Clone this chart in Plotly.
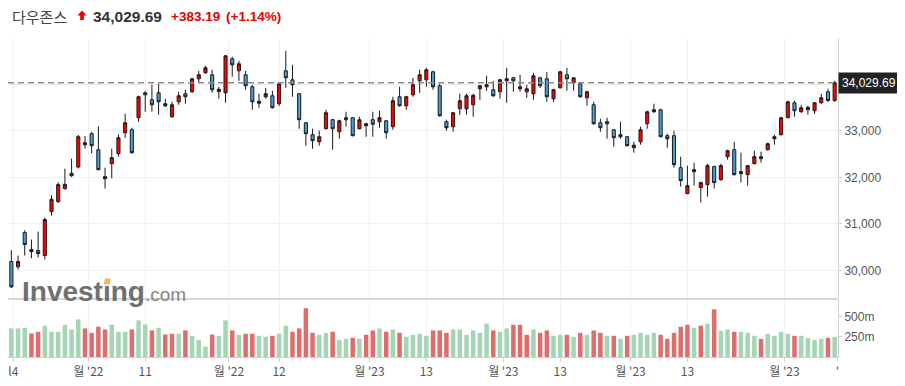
import plotly.graph_objects as go

# ---------------- data ----------------
opens = [30193, 30079, 30814, 30450, 30429, 30321, 31264, 31479, 31757, 32086,
         32221, 32700, 32936, 32593, 31971, 32293, 32507, 32957, 33021, 33279,
         33814, 33664, 33814, 33536, 33300, 33621, 33793, 33836, 34114, 34243,
         34200, 33840, 33814, 34543, 34286, 34200, 33943, 33590, 33729, 33750,
         33579, 34286, 34093, 33793, 33171, 32914, 32764, 33043, 33236, 32979,
         33279, 33279, 33043, 33107, 33236, 33193, 33214, 33086, 33729, 33536,
         33771, 34071, 34093, 34264, 33964, 33193, 33086, 33471, 33471, 33557,
         33900, 33943, 33879, 33836, 34071, 34136, 33900, 33836, 33793, 34136,
         34114, 33686, 33921, 34200, 34029, 34007, 33707, 33557, 33171, 33193,
         33021, 32914, 32871, 32636, 32764, 33150, 33407, 33450, 32893, 32893,
         32207, 31650, 32121, 31779, 31843, 32229, 31950, 32443, 32593, 32079,
         32057, 32293, 32443, 32593, 32829, 32914, 33279, 33600, 33407, 33450,
         33429, 33600, 33836, 33646.50]
highs = [30436, 30321, 30864, 30664, 30836, 31136, 31614, 31893, 32186, 32400,
         32907, 32886, 32979, 33093, 32207, 32614, 32921, 33364, 33064, 33750,
         33850, 33986, 34007, 33686, 33621, 33836, 33879, 34136, 34286, 34393,
         34307, 33943, 34620, 34586, 34500, 34286, 33986, 33793, 33921, 33857,
         34029, 34714, 34414, 33810, 33186, 33043, 33000, 33450, 33250, 33236,
         33407, 33290, 33300, 33171, 33407, 33429, 33225, 33729, 33943, 33750,
         34136, 34307, 34350, 34286, 34007, 33236, 33400, 33793, 33793, 33793,
         33986, 34179, 34071, 34114, 34350, 34157, 34200, 33986, 34243, 34157,
         34264, 33900, 34286, 34350, 34150, 34050, 33857, 33621, 33257, 33279,
         33035, 33193, 32885, 32764, 33086, 33429, 33579, 33471, 32936, 33000,
         32443, 32250, 32314, 31907, 32293, 32250, 32293, 32593, 32764, 32529,
         32265, 32571, 32550, 32743, 32914, 33300, 33643, 33643, 33557, 33536,
         33615, 33793, 33900, 34071]
lows = [29621, 30021, 30321, 30264, 30279, 30236, 31179, 31450, 31736, 32007,
        32193, 32614, 32514, 32150, 31757, 31979, 32443, 32843, 32507, 33193,
        33407, 33407, 33343, 33507, 33279, 33557, 33579, 33814, 34029, 34221,
        33814, 33686, 33600, 34157, 34071, 33879, 33450, 33493, 33686, 33479,
        33529, 33921, 33729, 33043, 32679, 32614, 32679, 33029, 32593, 32829,
        33086, 32880, 33030, 32871, 32871, 33064, 32829, 33021, 33514, 33450,
        33729, 33814, 33943, 33879, 33300, 33000, 32979, 33343, 33343, 33300,
        33664, 33857, 33729, 33686, 33600, 33836, 33836, 33707, 33664, 33921,
        33621, 33621, 33910, 33857, 33857, 33707, 33536, 33129, 32979, 32829,
        32657, 32829, 32657, 32529, 32700, 33043, 33386, 32860, 32636, 32207,
        31800, 31640, 31821, 31457, 31586, 31757, 31929, 32379, 32040, 31886,
        31821, 32280, 32314, 32571, 32700, 32900, 33270, 33300, 33386, 33343,
        33364, 33579, 33621, 33621]
closes = [29650, 30193, 30557, 30407, 30364, 31093, 31529, 31843, 31850, 32036,
          32871, 32743, 32679, 32164, 32014, 32421, 32850, 33171, 32529, 33729,
          33771, 33557, 33621, 33579, 33557, 33750, 33729, 34114, 34200, 34350,
          33879, 33890, 34607, 34414, 34436, 33964, 33621, 33630, 33793, 33493,
          34007, 34136, 33986, 33236, 32936, 32786, 32871, 33386, 33043, 33214,
          33236, 32893, 33236, 33150, 33140, 33279, 32957, 33643, 33536, 33729,
          33986, 34200, 34307, 33943, 33321, 33064, 33386, 33643, 33750, 33760,
          33964, 33986, 33750, 34093, 34114, 34071, 33943, 33900, 34179, 33964,
          33729, 33879, 34264, 34114, 34136, 33729, 33836, 33150, 33064, 33150,
          32850, 32871, 32679, 32690, 33021, 33407, 33450, 32871, 32829, 32271,
          31929, 31821, 32164, 31886, 32250, 31886, 32250, 32571, 32057, 32121,
          32250, 32443, 32400, 32721, 32871, 33279, 33621, 33429, 33493, 33500,
          33600, 33707, 33646.50, 34029.69]
volumes_m = [357, 357, 365, 294, 315, 391, 315, 315, 403, 344,
             470, 357, 302, 378, 344, 403, 315, 315, 344, 458,
             407, 332, 365, 281, 290, 290, 332, 265, 214, 130,
             281, 265, 458, 332, 277, 290, 290, 265, 252, 265,
             290, 391, 315, 357, 609, 302, 277, 302, 315, 214,
             227, 239, 227, 277, 332, 357, 315, 344, 302, 252,
             277, 290, 265, 332, 332, 302, 344, 344, 277, 332,
             302, 416, 332, 315, 357, 403, 403, 277, 344, 302,
             332, 265, 277, 277, 252, 302, 277, 332, 302, 265,
             265, 227, 265, 277, 302, 277, 302, 277, 227, 302,
             378, 403, 365, 391, 416, 596, 328, 344, 315, 315,
             302, 265, 227, 290, 265, 315, 290, 265, 265, 239,
             214, 227, 239, 252]
x_tick_pos = [0.3, 11.5, 20, 32.5, 40, 53.5, 62, 73.5, 82, 92.5, 101, 115.5, 123.4]
x_tick_text = ["l4", "월 '22", "11", "월 '22", "12", "월 '23", "13", "월 '23", "13", "월 '23", "13", "월 '23", "'"]
y_ticks = [30000, 31000, 32000, 33000, 34000]
y_tick_text = ["30,000", "31,000", "32,000", "33,000", ""]   # 34,000 sits under the price tag
vol_ticks = [250, 500]
vol_tick_text = ["250m", "500m"]
title_name = "다우존스"
last_price = 34029.69
change = 383.19
change_pct = 1.14

# ---------------- layout helpers ----------------
# The page body has an 8px margin, so the figure sits at (8, 8) in the window.
OFF = 8
W, H = 905 - OFF, 386 - OFF
L, R, T, B = 8, 838, 38, 357          # plot area in window pixels
SEP = 298


def px_x(x):
    return (x - L) / (R - L)


def px_y(y):
    return (B - y) / (B - T)


idx = list(range(len(closes)))
vol_colors = []
for i, c in enumerate(closes):
    up = True if i == 0 else c >= closes[i - 1]
    vol_colors.append("#a4d5b4" if up else "#e06c6c")

fig = go.Figure()
fig.add_trace(go.Candlestick(
    x=idx, open=opens, high=highs, low=lows, close=closes,
    increasing=dict(fillcolor="#ff0000", line=dict(color="#1a1a1a", width=1)),
    decreasing=dict(fillcolor="#4a9ed8", line=dict(color="#1a1a1a", width=1)),
    whiskerwidth=0, xaxis="x", yaxis="y", hoverinfo="skip", showlegend=False,
))
fig.add_trace(go.Bar(
    x=idx, y=volumes_m, marker=dict(color=vol_colors, line=dict(width=0)),
    xaxis="x2", yaxis="y2", hoverinfo="skip", showlegend=False,
))

grid = "#f1f1f1"
axis_font = dict(family="Liberation Sans, Arial, sans-serif", size=12, color="#555")
main_bottom = px_y(SEP)

fig.update_layout(
    width=W, height=H,
    margin=dict(l=L - OFF, r=(W + OFF) - R, t=T - OFF, b=(H + OFF) - B, autoexpand=False),
    paper_bgcolor="white", plot_bgcolor="white",
    boxgap=0.34, bargap=0.33,
    showlegend=False, hovermode=False,
    xaxis=dict(domain=[0, 1], anchor="y", range=[-0.5, 123.5],
               rangeslider=dict(visible=False),
               tickmode="array", tickvals=x_tick_pos, showticklabels=False,
               showgrid=True, gridcolor=grid, zeroline=False, showline=False, ticks=""),
    yaxis=dict(domain=[main_bottom, 1], anchor="x", side="right",
               range=[29410, 34990], tickmode="array", tickvals=y_ticks, ticktext=y_tick_text,
               showgrid=True, gridcolor=grid, zeroline=False,
               showline=True, linecolor="#d0d0d0", linewidth=1,
               ticks="outside", ticklen=3, tickcolor="#d0d0d0",
               tickfont=axis_font),
    xaxis2=dict(domain=[0, 1], anchor="y2", range=[-0.5, 123.5], matches="x",
                tickmode="array", tickvals=x_tick_pos, ticktext=x_tick_text,
                ticklabeloverflow="allow",
                showgrid=True, gridcolor=grid, zeroline=False,
                showline=True, linecolor="#d0d0d0", linewidth=1,
                ticks="outside", ticklen=4, tickcolor="#d0d0d0",
                tickfont=dict(family="Noto Sans CJK KR, sans-serif", size=12, color="#555")),
    yaxis2=dict(domain=[0, px_y(300)], anchor="x2", side="right",
                range=[0, 712], tickmode="array", tickvals=vol_ticks, ticktext=vol_tick_text,
                showgrid=False, zeroline=False,
                showline=True, linecolor="#d0d0d0", linewidth=1,
                ticks="outside", ticklen=3, tickcolor="#d0d0d0",
                tickfont=axis_font),
)

shapes = []
# dashed last price line
shapes.append(dict(type="line", xref="paper", yref="y", x0=0, x1=1, y0=last_price, y1=last_price,
                   line=dict(color="#8c8c8c", width=1.5, dash="6px,4px")))
# separator line between panels
shapes.append(dict(type="line", xref="paper", yref="paper", x0=px_x(OFF), x1=1,
                   y0=px_y(299), y1=px_y(299), line=dict(color="#c8c8c8", width=1.5)))
# red up arrow in header
ax = [82, 77.5, 80.2, 80.2, 83.8, 83.8, 86.5]
ay = [10.5, 15.5, 15.5, 20, 20, 15.5, 15.5]
path = "M " + " L ".join(f"{px_x(a)},{px_y(b)}" for a, b in zip(ax, ay)) + " Z"
shapes.append(dict(type="path", xref="paper", yref="paper", path=path,
                   fillcolor="#ee0000", line=dict(width=0)))
# orange mark of logo
ox = [105.0, 110.8, 109.6, 103.8]
oy = [278.5, 278.5, 284.5, 284.5]
path2 = "M " + " L ".join(f"{px_x(a)},{px_y(b)}" for a, b in zip(ox, oy)) + " Z"
shapes.append(dict(type="path", xref="paper", yref="paper", path=path2,
                   fillcolor="#f5b35a", line=dict(width=0)))
fig.update_layout(shapes=shapes)

hdr_y = px_y(16.5)
annotations = [
    dict(text=title_name, x=px_x(10), y=hdr_y, xanchor="left", yanchor="middle",
         font=dict(family="Noto Sans CJK KR, sans-serif", size=15, color="#444")),
    dict(text=f"<b>{last_price:,.2f}</b>", x=px_x(91), y=hdr_y, xanchor="left", yanchor="middle",
         font=dict(family="Liberation Sans, Arial, sans-serif", size=15.5, color="#333")),
    dict(text=f"<b>+{change:,.2f}</b>", x=px_x(169), y=hdr_y, xanchor="left", yanchor="middle",
         font=dict(family="Liberation Sans, Arial, sans-serif", size=13.5, color="#e60000")),
    dict(text=f"<b>(+{change_pct:.2f}%)</b>", x=px_x(224), y=hdr_y, xanchor="left", yanchor="middle",
         font=dict(family="Liberation Sans, Arial, sans-serif", size=13.5, color="#e60000")),
    # last price tag
    dict(text=f"{last_price:,.2f}", x=1, y=last_price, xref="paper", yref="y",
         xanchor="left", yanchor="middle", bgcolor="#222222", borderpad=3,
         font=dict(family="Liberation Sans, Arial, sans-serif", size=12, color="white")),
    # watermark
    dict(text="<b>Investıng</b><span style='font-size:19px;color:#858585'>.com</span>",
         x=px_x(20), y=px_y(291), xanchor="left", yanchor="middle",
         font=dict(family="Liberation Sans, Arial, sans-serif", size=28, color="#707070")),
]
for a in annotations:
    a.setdefault("xref", "paper")
    a.setdefault("yref", "paper")
    a["showarrow"] = False
fig.update_layout(annotations=annotations)

fig.write_html("out.html", config={"displayModeBar": False})
